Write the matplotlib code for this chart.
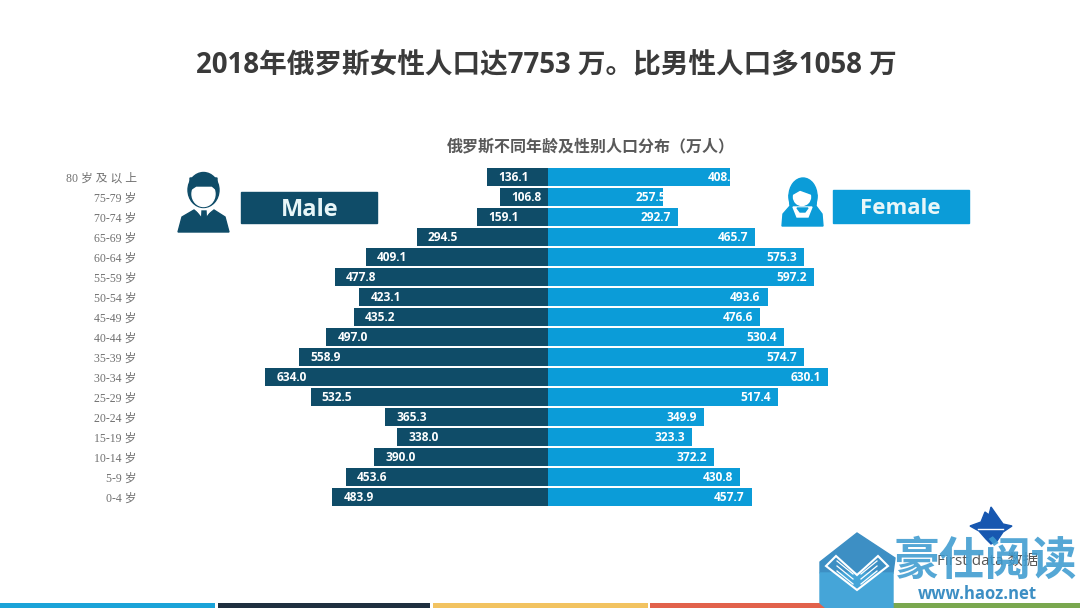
import matplotlib
matplotlib.use('Agg')
import matplotlib.patches as mpatches
import matplotlib.pyplot as plt
import numpy as np

plt.rcParams['font.family'] = ['Open Sans', 'Noto Sans CJK SC', 'DejaVu Sans']

# bottom row first
AGE_LABELS = ['0-4 岁', '5-9 岁', '10-14 岁', '15-19 岁', '20-24 岁', '25-29 岁',
              '30-34 岁', '35-39 岁', '40-44 岁', '45-49 岁', '50-54 岁', '55-59 岁',
              '60-64 岁', '65-69 岁', '70-74 岁', '75-79 岁', '80 岁 及 以 上']
MALE = [483.9, 453.6, 390.0, 338.0, 365.3, 532.5, 634.0, 558.9, 497.0,
        435.2, 423.1, 477.8, 409.1, 294.5, 159.1, 106.8, 136.1]
FEMALE = [457.7, 430.8, 372.2, 323.3, 349.9, 517.4, 630.1, 574.7, 530.4,
          476.6, 493.6, 597.2, 575.3, 465.7, 292.7, 257.5, 408.2]

TITLE = '2018年俄罗斯女性人口达7753 万。比男性人口多1058 万'
SUBTITLE = '俄罗斯不同年龄及性别人口分布（万人）'

MALE_COLOR = '#0f4c68'
FEMALE_COLOR = '#0b9cd8'
STRIP_COLORS = ['#1ba3d8', '#1f2f3f', '#f2c361', '#e2624b', '#7aa84f']
STRIP_SPANS = [(0, 215), (218, 430), (433, 648), (650, 865), (867, 1080)]

W, H = 1080, 608
PX_PER_UNIT = 0.445
CENTER_X = 548

fig = plt.figure(figsize=(W / 100, H / 100), dpi=100, facecolor='white')

# pixel canvas for everything that is not the chart itself
bg = fig.add_axes([0, 0, 1, 1])
bg.set_xlim(0, W)
bg.set_ylim(H, 0)
bg.axis('off')

bg.text(546.5, 66, TITLE, ha='center', va='center', fontsize=19.9, fontweight='bold', color='#3a3a3a')
bg.text(590.5, 147.5, SUBTITLE, ha='center', va='center', fontsize=11.5, fontweight='bold', color='#595959')


def draw_male_icon():
    c = MALE_COLOR
    bg.add_patch(mpatches.Polygon([(178, 232), (182, 217), (194, 210), (204, 218), (214, 210),
                                   (225, 217), (229, 232)], color=c))
    bg.add_patch(mpatches.Polygon([(196, 209), (211, 209), (204, 219)], color='white'))
    bg.add_patch(mpatches.Polygon([(202, 211), (206, 211), (206.5, 222), (201.5, 222)], color=c))
    bg.add_patch(mpatches.Ellipse((203.5, 190), 31, 35, color=c))
    bg.add_patch(mpatches.Ellipse((203.5, 194), 23, 25, color='white'))
    bg.add_patch(mpatches.Polygon([(190, 190), (196, 186), (212, 186), (217, 190), (217, 178),
                                   (190, 178)], color=c))


def draw_female_icon():
    c = FEMALE_COLOR
    bg.add_patch(mpatches.Ellipse((803, 196), 28, 36, color=c))
    bg.add_patch(mpatches.Polygon([(782, 226), (783, 214), (790, 206), (789, 195), (817, 195),
                                   (816, 206), (822, 214), (823, 226)], color=c))
    bg.add_patch(mpatches.Ellipse((802, 197), 17, 17, color='white'))
    bg.add_patch(mpatches.Polygon([(793, 194), (800, 190), (811, 194), (811, 186), (793, 186)], color=c))
    bg.add_patch(mpatches.Polygon([(793, 207), (812, 207), (808, 217), (797, 217)], color='white'))
    bg.add_patch(mpatches.Polygon([(797, 208), (808, 208), (805, 212), (800, 212)], color=c))


def draw_watermark():
    bg.add_patch(mpatches.Polygon([(970, 526), (981, 522), (985, 512), (989, 515), (991, 507),
                                   (998, 517), (1003, 524), (1012, 526), (1003, 532), (997, 541),
                                   (991, 544), (986, 539), (979, 531)], color='#1757b0'))
    bg.plot([978, 1003], [529, 529], color='white', lw=1)
    bg.text(988, 561, 'First data 数据', ha='center', va='center', fontsize=11, color='#555555')
    bg.add_patch(mpatches.Polygon([(820, 562), (857, 533), (895, 558), (893, 573), (820, 573)],
                                  color='#3d8fc4'))
    bg.add_patch(mpatches.Polygon([(820, 573), (893, 573), (893, 608), (826, 608), (820, 603)],
                                  color='#45a5d8'))
    bg.add_patch(mpatches.Polygon([(826, 566), (857, 590), (888, 566), (878, 556), (857, 575),
                                   (836, 556)], facecolor='none', edgecolor='white', lw=1.5))
    for dy in (0, 5, 10):
        bg.plot([837, 853], [561 + dy, 574 + dy], color='white', lw=0.9)
        bg.plot([877, 861], [561 + dy, 574 + dy], color='white', lw=0.9)
    bg.text(985, 562, '豪仕阅读', ha='center', va='center', fontsize=33, fontweight='bold',
            family='Noto Sans CJK SC', color='#3d9bd0', alpha=0.88)
    bg.text(977.5, 594, 'www.haoz.net', ha='center', va='center', fontsize=12, fontweight='bold',
            color='#3d8fc4')


draw_male_icon()
draw_female_icon()

bg.add_patch(mpatches.Rectangle((241, 192), 136, 31, color=MALE_COLOR))
bg.text(310, 210, 'Male', ha='center', va='center', fontsize=17, fontweight='bold', color='#e8f6f8')
bg.add_patch(mpatches.Rectangle((833, 190), 136, 33, color=FEMALE_COLOR))
bg.text(900.5, 208, 'Female', ha='center', va='center', fontsize=16, fontweight='bold', color='#e8f6f8')

for color, (x0, x1) in zip(STRIP_COLORS, STRIP_SPANS):
    bg.add_patch(mpatches.Rectangle((x0, 603), x1 - x0, 5, color=color, lw=0))

draw_watermark()

# population pyramid, males on the negative side
left_px, right_px, top_px, bottom_px = 140, 960, 167, 507
ax = fig.add_axes([left_px / W, 1 - bottom_px / H, (right_px - left_px) / W, (bottom_px - top_px) / H])
ax.patch.set_alpha(0)
ax.set_xlim((left_px - CENTER_X) / PX_PER_UNIT, (right_px - CENTER_X) / PX_PER_UNIT)
ax.set_ylim(-0.5, len(AGE_LABELS) - 0.5)

y = np.arange(len(AGE_LABELS))
ax.barh(y, -np.array(MALE), left=-1.0, height=0.9, color=MALE_COLOR)
ax.barh(y, FEMALE, height=0.9, color=FEMALE_COLOR)

# the two top female labels overrun their bars and vanish into the white
label_shift = {15: 25, 16: 34}
for i in y:
    ax.text(-MALE[i] + 24, i - 0.04, f'{MALE[i]:.1f}', ha='left', va='center', fontsize=8.6,
            fontweight='bold', color='white')
    ax.text(FEMALE[i] - 16 + label_shift.get(i, 0), i - 0.04, f'{FEMALE[i]:.1f}', ha='right',
            va='center', fontsize=8.6, fontweight='bold', color='white')

for spine in ax.spines.values():
    spine.set_visible(False)
ax.set_xticks([])
ax.set_yticks(y)
ax.set_yticklabels(AGE_LABELS, fontsize=8.5, color='#707070',
                   family=['Liberation Serif', 'Noto Sans CJK SC'])
ax.tick_params(axis='y', length=0, pad=2.5)

fig.savefig('out.png', dpi=100)
